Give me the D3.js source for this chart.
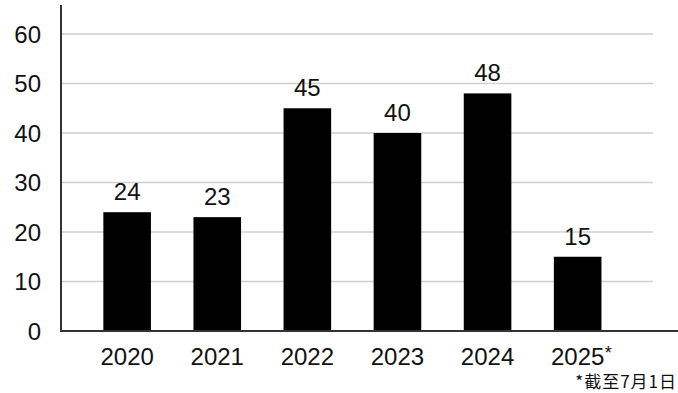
<!DOCTYPE html>
<html><head><meta charset="utf-8">
<script src="https://cdn.jsdelivr.net/npm/d3@7"></script>
<style>
html,body{margin:0;padding:0;background:#fff;}
svg{display:block;}
</style></head>
<body>
<svg id="chart" width="678" height="393"></svg>
<script>
const categories = ["2020","2021","2022","2023","2024","2025"];
const values = [24, 23, 45, 40, 48, 15];
const tickValues = [0, 10, 20, 30, 40, 50, 60];
const footnote = "*截至7月1日";

const svg = d3.select("#chart");
const x = d3.scaleBand().domain(categories).range([82.1, 622.7]).paddingInner(0.4717).paddingOuter(0.2358);
const y = d3.scaleLinear().domain([0, 60]).range([331, 34]);
const font = "'Liberation Sans', Arial, Helvetica, sans-serif";

// gridlines
svg.append("g").selectAll("line").data(tickValues.filter(d => d > 0)).join("line")
  .attr("x1", 62).attr("x2", 653)
  .attr("y1", d => y(d)).attr("y2", d => y(d))
  .attr("stroke", "#cfcfcf").attr("stroke-width", 1.5);

// y axis tick labels
const yAxis = d3.axisLeft(y).tickValues(tickValues).tickSize(0).tickPadding(20);
const gy = svg.append("g").attr("transform", "translate(61,0)").call(yAxis);
gy.select(".domain").remove();
gy.selectAll("text").attr("font-family", font).attr("font-size", 24).attr("fill", "#111").attr("dy", "0.35em");

// bars
svg.append("g").selectAll("rect").data(values).join("rect")
  .attr("x", (d, i) => x(categories[i]))
  .attr("width", x.bandwidth())
  .attr("y", d => y(d))
  .attr("height", d => y(0) - y(d))
  .attr("fill", "#000");

// value labels
svg.append("g").selectAll("text").data(values).join("text")
  .attr("x", (d, i) => x(categories[i]) + x.bandwidth() / 2)
  .attr("y", d => y(d) - 12)
  .attr("text-anchor", "middle")
  .attr("font-family", font).attr("font-size", 24).attr("fill", "#111")
  .text(d => d);

// axis lines
svg.append("line").attr("x1", 61).attr("x2", 61).attr("y1", 5).attr("y2", 332)
  .attr("stroke", "#333").attr("stroke-width", 2);
svg.append("line").attr("x1", 60).attr("x2", 678).attr("y1", 331).attr("y2", 331)
  .attr("stroke", "#333").attr("stroke-width", 2);

// x labels
svg.append("g").selectAll("text").data(categories).join("text")
  .attr("x", d => x(d) + x.bandwidth() / 2)
  .attr("y", 365)
  .attr("text-anchor", "middle")
  .attr("font-family", font).attr("font-size", 24).attr("fill", "#111")
  .text(d => d);
// asterisk for last category
svg.append("text")
  .attr("x", x(categories[5]) + x.bandwidth() / 2 + 27)
  .attr("y", 359)
  .attr("font-family", font).attr("font-size", 18).attr("fill", "#111")
  .text("*");

// footnote
svg.append("text")
  .attr("x", 677).attr("y", 388)
  .attr("text-anchor", "end")
  .attr("font-family", "'Noto Sans CJK SC', sans-serif").attr("font-size", 17)
  .attr("letter-spacing", 1).attr("fill", "#111")
  .text(footnote);
</script>
</body></html>
